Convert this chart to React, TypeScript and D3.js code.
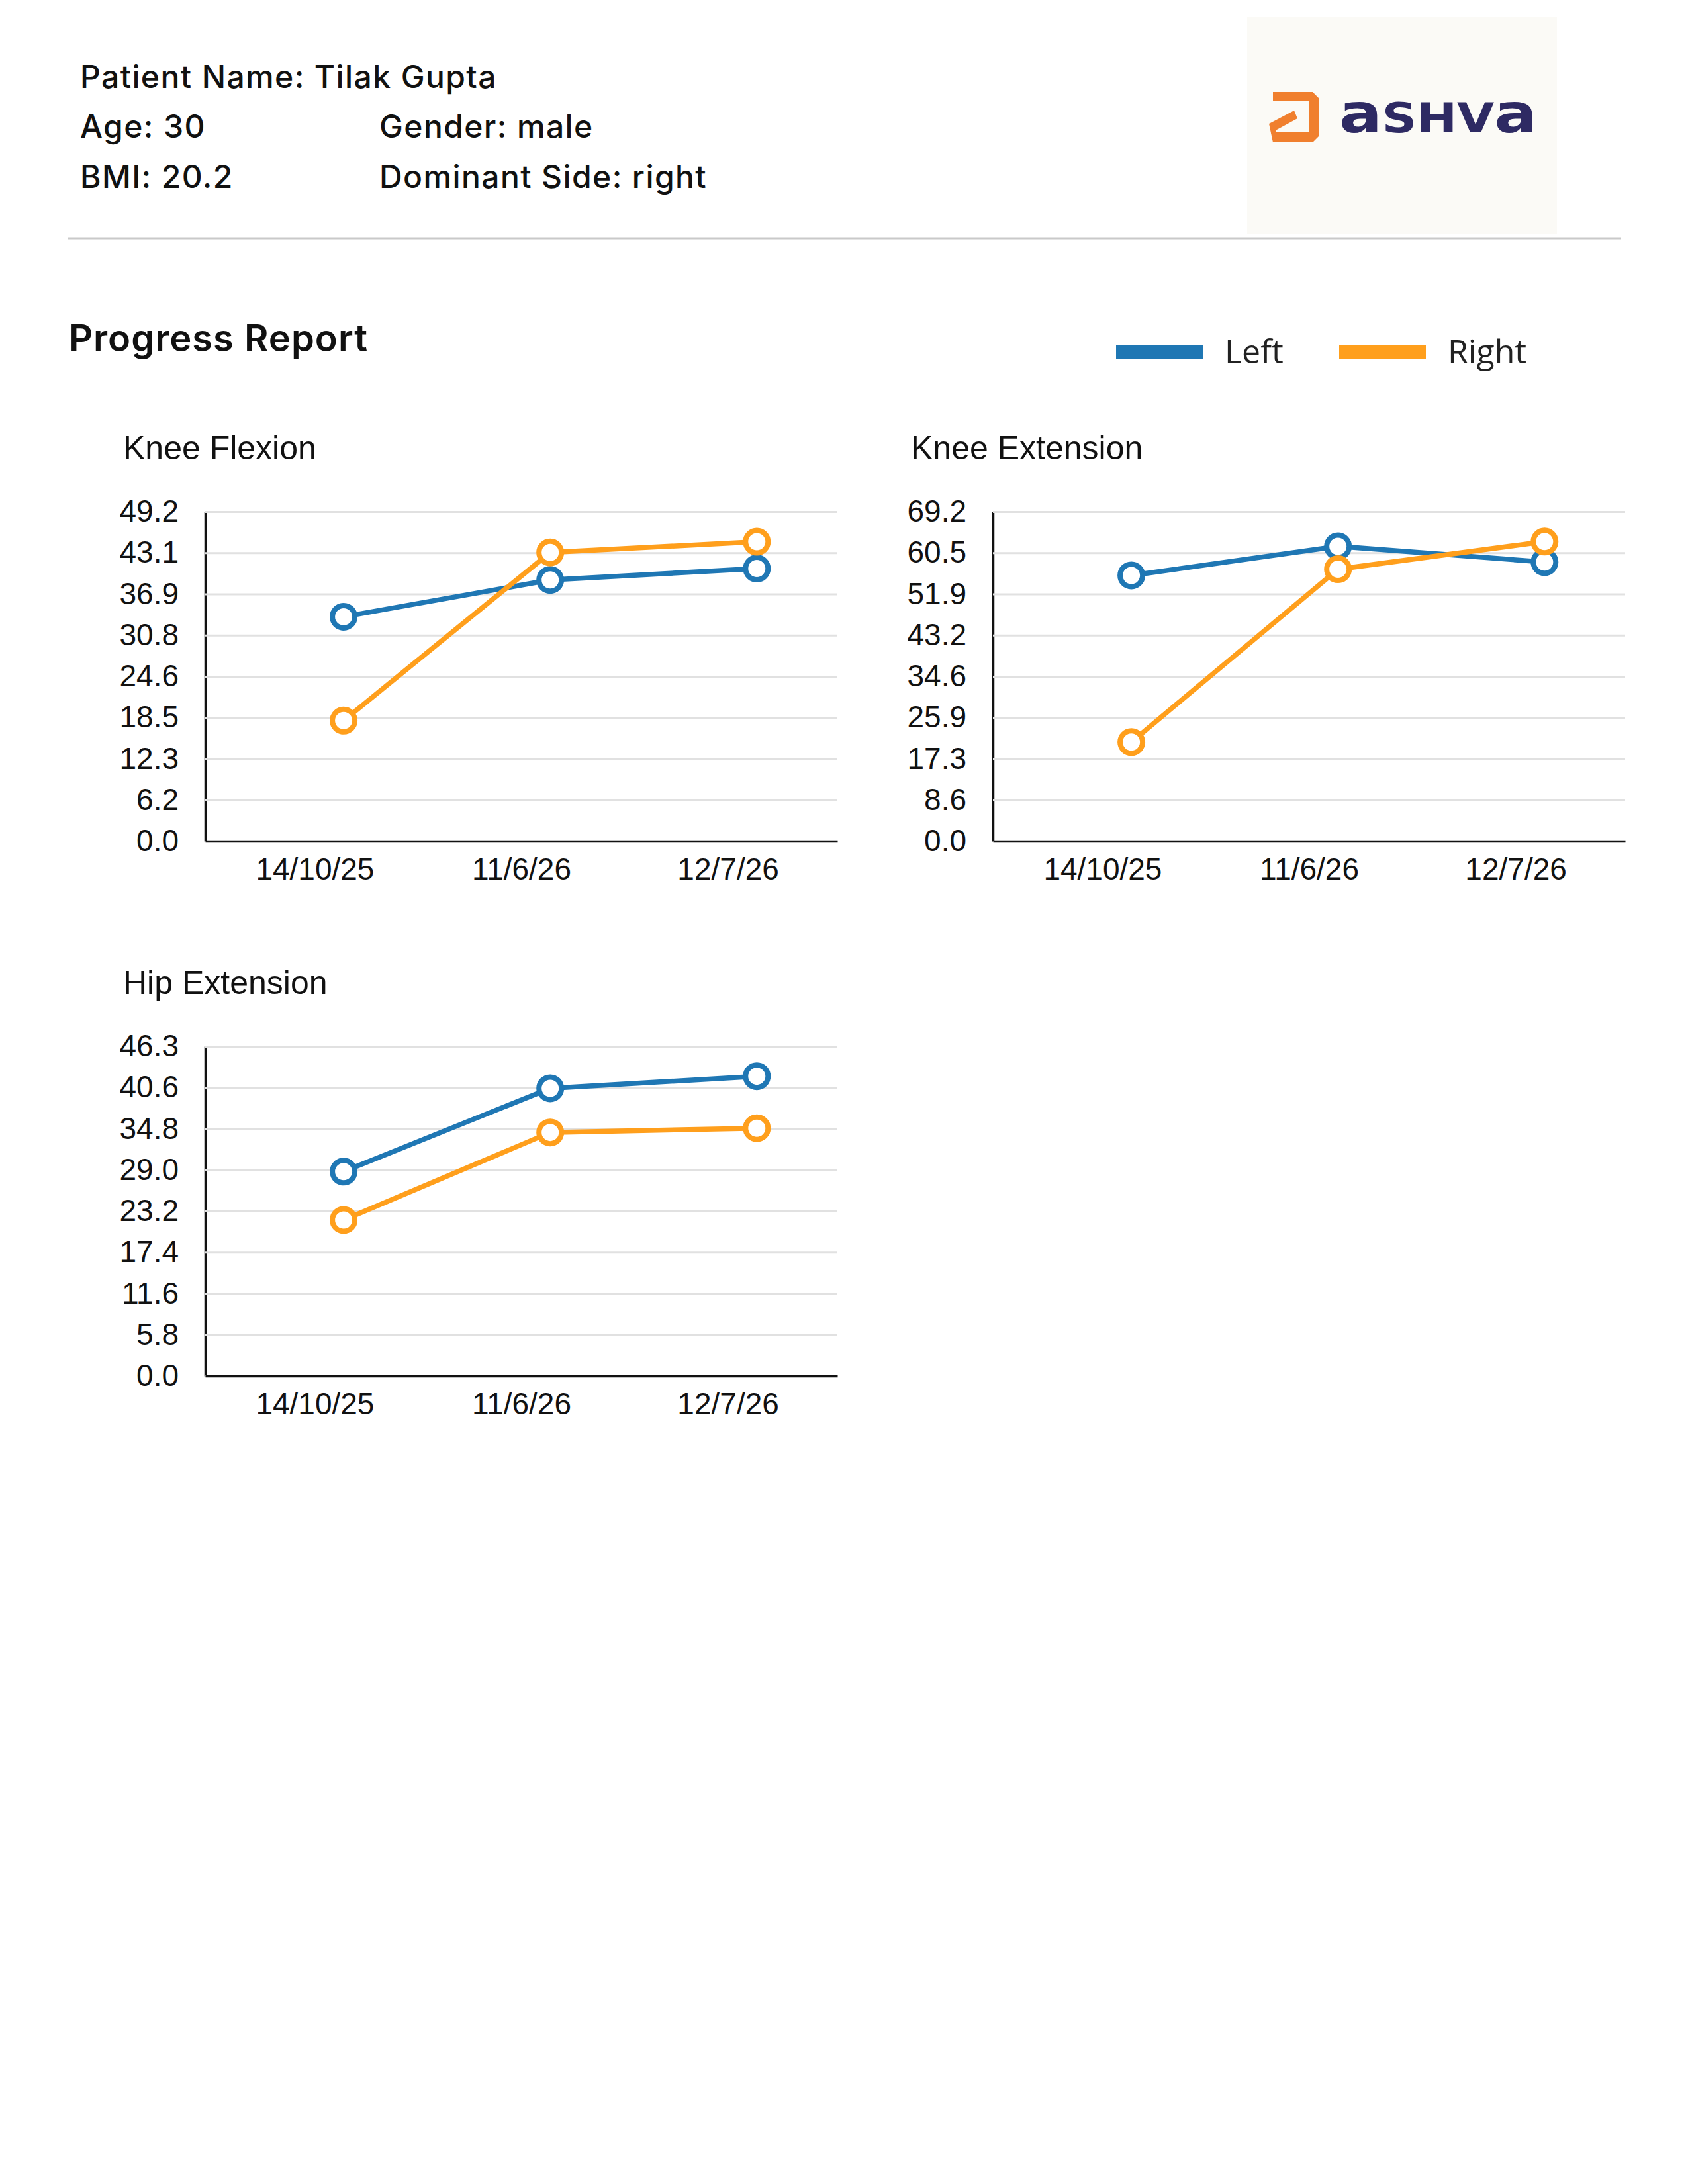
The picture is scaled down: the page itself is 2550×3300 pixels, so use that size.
import React, { useEffect, useRef } from 'react'
import * as d3 from 'd3'

const dates = ['14/10/25', '11/6/26', '12/7/26']
const sides = ['Left', 'Right']

const kneeFlexionLeft = [33.5, 39.0, 40.7]
const kneeFlexionRight = [18.0, 43.1, 44.7]
const kneeFlexionTicks = ['0.0', '6.2', '12.3', '18.5', '24.6', '30.8', '36.9', '43.1', '49.2']

const kneeExtensionLeft = [55.8, 61.9, 58.6]
const kneeExtensionRight = [20.8, 57.1, 62.9]
const kneeExtensionTicks = ['0.0', '8.6', '17.3', '25.9', '34.6', '43.2', '51.9', '60.5', '69.2']

const hipExtensionLeft = [28.7, 40.4, 42.1]
const hipExtensionRight = [21.9, 34.2, 34.8]
const hipExtensionTicks = ['0.0', '5.8', '11.6', '17.4', '23.2', '29.0', '34.8', '40.6', '46.3']

const BLUE = '#1f77b4'
const ORANGE = '#ff9f1c'
const colors = [BLUE, ORANGE]
const chartFont = '"Liberation Sans", Arial, sans-serif'
const headFont = 'Inter, Roboto, sans-serif'

const W = 955
const H = 498

function Chart({ title, left, right, ticks, ox, oy }: any) {
  const ref = useRef<SVGGElement>(null)

  useEffect(() => {
    const g = d3.select(ref.current)
    g.selectAll('*').remove()

    const max = +ticks[ticks.length - 1]
    const x = d3.scalePoint().domain(dates).range([0, W]).padding(0.53)
    const y = d3.scaleLinear().domain([0, max]).range([H, 0])
    const shift = x.step() * 0.14
    const tickVals = ticks.map((t: string, i: number) => (i * max) / (ticks.length - 1))

    // y axis + gridlines
    const yAxis = d3.axisLeft(y)
      .tickValues(tickVals)
      .tickFormat((d: any, i: number) => ticks[i])
      .tickSize(-W)
      .tickSizeOuter(0)
      .tickPadding(40)
    const ya = g.append('g').call(yAxis)
    ya.selectAll('.tick line').attr('stroke', '#e1e1e1').attr('stroke-width', 3)
    ya.selectAll('.tick text')
      .attr('font-size', 46)
      .attr('font-family', chartFont)
      .attr('fill', '#111')
    ya.select('.domain').attr('stroke', '#111').attr('stroke-width', 3.5)

    // x axis
    const xAxis = d3.axisBottom(x).tickSize(0).tickSizeOuter(0).tickPadding(25)
    const xa = g.append('g').attr('transform', `translate(0,${H})`).call(xAxis)
    xa.selectAll('.tick text')
      .attr('font-size', 46)
      .attr('font-family', chartFont)
      .attr('fill', '#111')
    xa.select('.domain').attr('stroke', '#111').attr('stroke-width', 3.5)

    const line = d3.line<number>()
      .x((d, i) => (x(dates[i]) as number) + shift)
      .y(d => y(d))

    const series = [left, right]
    series.forEach((vals: number[], k: number) => {
      g.append('path')
        .datum(vals)
        .attr('d', line)
        .attr('fill', 'none')
        .attr('stroke', colors[k])
        .attr('stroke-width', 7.5)
        .attr('stroke-linejoin', 'round')
    })
    series.forEach((vals: number[], k: number) => {
      g.selectAll(null)
        .data(vals)
        .enter()
        .append('circle')
        .attr('cx', (d, i) => (x(dates[i]) as number) + shift)
        .attr('cy', d => y(d))
        .attr('r', 17)
        .attr('fill', '#fff')
        .attr('stroke', colors[k])
        .attr('stroke-width', 8)
    })
  }, [left, right, ticks])

  return (
    <g transform={`translate(${ox},${oy})`}>
      <text x={-124} y={-79} fontSize={50} fontFamily={chartFont} fill="#111">{title}</text>
      <g ref={ref} />
    </g>
  )
}

export default function App() {
  return (
    <svg width={2550} height={3300} style={{ position: 'absolute', left: 0, top: 0, background: '#fff' }}>
      <rect width={2550} height={3300} fill="#fff" />

      {/* patient header */}
      <g fontFamily={headFont} fontWeight={500} fontSize={48} letterSpacing={1.4} fill="#111">
        <text x={121} y={133}>Patient Name: Tilak Gupta</text>
        <text x={121} y={208}>Age: 30</text>
        <text x={573} y={208}>Gender: male</text>
        <text x={121} y={284}>BMI: 20.2</text>
        <text x={573} y={284}>Dominant Side: right</text>
      </g>

      {/* logo */}
      <rect x={1884} y={26} width={468} height={327} fill="#fbfaf6" />
      <path
        d="M1923,139 H1983 L1993,149 V205 L1983,215 H1923 L1917,187 L1955,167 L1960,179 L1927,197 V200 H1978 V153 H1923 Z"
        fill="#f07f2e"
      />
      <text x={2023} y={200} fontFamily='"DejaVu Sans", sans-serif' fontWeight="bold" fill="#2e2a63"
        textLength={299} lengthAdjust="spacingAndGlyphs">
        <tspan fontSize={82}>a</tspan><tspan fontSize={62}>SHV</tspan><tspan fontSize={82}>a</tspan>
      </text>

      <line x1={103} x2={2449} y1={360} y2={360} stroke="#c9c9c9" strokeWidth={3} />

      <text x={104} y={531} fontFamily={headFont} fontWeight={600} fontSize={56} letterSpacing={1} fill="#111">Progress Report</text>

      {/* legend */}
      {sides.map((s, i) => (
        <g key={s} transform={`translate(${1686 + i * 337},0)`}>
          <rect x={0} y={521} width={131} height={21} fill={colors[i]} />
          <text x={164} y={549} fontFamily='"Open Sans", sans-serif' fontSize={50} fill="#222">{s}</text>
        </g>
      ))}

      <Chart title="Knee Flexion" left={kneeFlexionLeft} right={kneeFlexionRight} ticks={kneeFlexionTicks} ox={310} oy={773} />
      <Chart title="Knee Extension" left={kneeExtensionLeft} right={kneeExtensionRight} ticks={kneeExtensionTicks} ox={1500} oy={773} />
      <Chart title="Hip Extension" left={hipExtensionLeft} right={hipExtensionRight} ticks={hipExtensionTicks} ox={310} oy={1581} />
    </svg>
  )
}
